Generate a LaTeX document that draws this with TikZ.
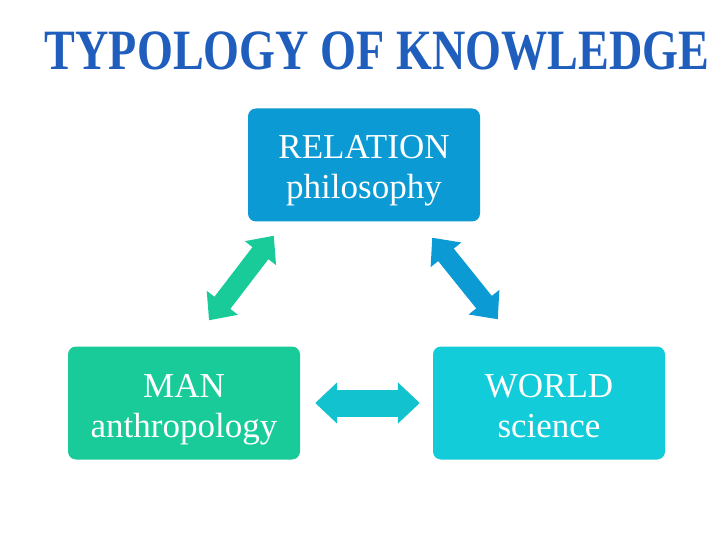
\documentclass[tikz,border=0pt]{standalone}
\usepackage{fontspec}
\setmainfont{Liberation Serif}
\usetikzlibrary{arrows.meta}
\definecolor{relblue}{HTML}{0B9AD3}
\definecolor{mangreen}{HTML}{1ACB9A}
\definecolor{worldcyan}{HTML}{13CCD9}
\definecolor{titleblue}{HTML}{1F5EBD}
\newcommand{\toprow}{\rule{0pt}{40pt}}
\tikzset{
  topicbox/.style={rounded corners=8pt, minimum width=232pt, minimum height=113pt,
    text=white, align=center, font=\fontsize{35}{40}\selectfont, inner sep=0pt},
  fatarrow/.style={line width=20pt,
    {Triangle[length=22pt,width=38pt]}-{Triangle[length=22pt,width=38pt]}}
}
\begin{document}
\begin{tikzpicture}[x=1pt, y=-1pt]
    \useasboundingbox (0,0) rectangle (720,540);
    \node[text=titleblue, font=\bfseries\fontsize{57}{60}\selectfont, xscale=0.81] (title) at (377,51) {TYPOLOGY OF KNOWLEDGE};
    \node[topicbox, fill=relblue] (rel) at (364,165) {\toprow RELATION\\philosophy\strut};
    \node[topicbox, fill=mangreen] (man) at (184,403) {\toprow MAN\\anthropology\strut};
    \node[topicbox, fill=worldcyan] (world) at (549,403) {\toprow WORLD\\science\strut};
    % arrows between the boxes
    \draw[fatarrow, mangreen] ([xshift=25pt, yshift=26pt]man.north) -- ([xshift=26pt, yshift=-14pt]rel.south west);
    \draw[fatarrow, relblue] ([xshift=-48pt, yshift=-16pt]rel.south east) -- ([xshift=65pt, yshift=27pt]world.north west);
    \draw[fatarrow, line width=27pt, {Triangle[length=22pt,width=40pt]}-{Triangle[length=22pt,width=40pt]}, worldcyan!95!black] ([xshift=15pt]man.east) -- ([xshift=-13pt]world.west);
  \end{tikzpicture}
\end{document}
